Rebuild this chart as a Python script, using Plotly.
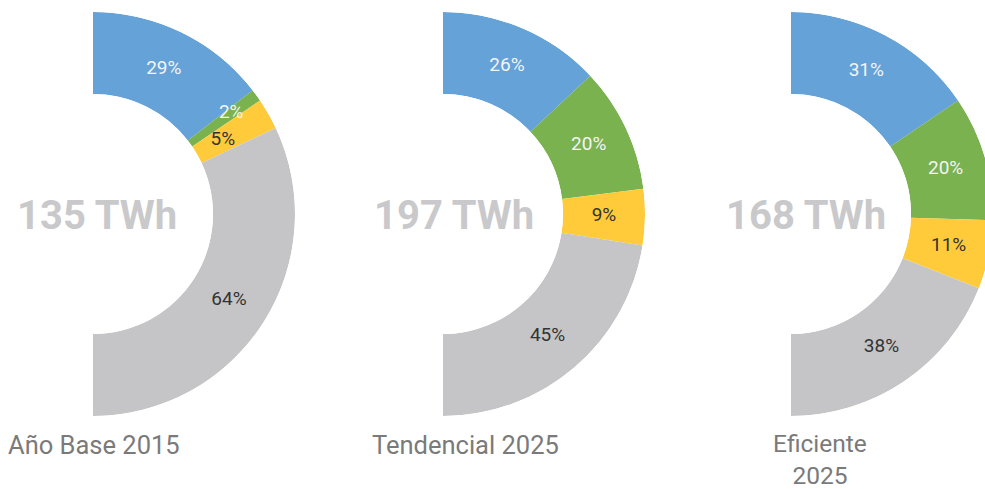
import plotly.graph_objects as go

# ---------------- data ----------------
segments = ["Segmento 1", "Segmento 2", "Segmento 3", "Segmento 4"]
scenarios = ["Año Base 2015", "Tendencial 2025", "Eficiente<br>2025"]
totals = ["135 TWh", "197 TWh", "168 TWh"]
shares_base_2015 = [29, 2, 5, 64]
shares_tendencial_2025 = [26, 20, 9, 45]
shares_eficiente_2025 = [31, 20, 11, 38]

# ---------------- style ----------------
colors = ["#64A2D8", "#79B24F", "#FFCB3B", "#C5C5C7"]
label_colors = ["#F4F4F4", "#F4F4F4", "#333333", "#333333"]
label_r = [[0.5, 0.62, 0.36, 0.5], [0.5] * 4, [0.5] * 4]

W, H = 1000, 489
centers_x = [93, 443, 791]
center_y = 214
R = 202
hole = 120 / 202

fig = go.Figure()
all_shares = [shares_base_2015, shares_tendencial_2025, shares_eficiente_2025]

for i, shares in enumerate(all_shares):
    pname = "polar" if i == 0 else f"polar{i+1}"
    sub = "polar" if i == 0 else f"polar{i+1}"
    total = sum(shares)
    widths = [v / total * 180 for v in shares]
    mids = []
    acc = 0
    for w in widths:
        mids.append(acc + w / 2)
        acc += w
    fig.add_trace(go.Barpolar(
        r=[1] * len(shares), theta=mids, width=widths,
        marker=dict(color=colors, line=dict(width=0)),
        text=[f"{s}: {v}%" for s, v in zip(segments, shares)], hoverinfo="text",
        subplot=sub, showlegend=False))
    fig.add_trace(go.Scatterpolar(
        r=label_r[i], theta=mids, mode="text",
        text=[f"{v}%" for v in shares],
        textfont=dict(family="Roboto", size=19, color=label_colors),
        subplot=sub, showlegend=False, hoverinfo="skip"))
    cx = centers_x[i]
    fig.layout[pname] = dict(
        domain=dict(x=[cx / W, (cx + R) / W],
                    y=[(H - (center_y + R)) / H, (H - (center_y - R)) / H]),
        sector=[-90, 90], hole=hole, bgcolor="rgba(0,0,0,0)",
        angularaxis=dict(visible=False, rotation=90, direction="clockwise"),
        radialaxis=dict(visible=False, range=[0, 1]))

# total labels
total_x = [97, 454, 806]
for i, t in enumerate(totals):
    fig.add_annotation(x=total_x[i] / W, y=(H - 215) / H, xref="paper", yref="paper",
                       text=f"<b>{t}</b>", showarrow=False,
                       font=dict(family="Roboto", size=40, color="#C9C9CB"),
                       xanchor="center", yanchor="middle")

# scenario labels
fig.add_annotation(x=6 / W, y=(H - 445) / H, xref="paper", yref="paper",
                   text=scenarios[0], showarrow=False, xanchor="left", yanchor="middle",
                   font=dict(family="Roboto", size=25.5, color="#7A7A7A"))
fig.add_annotation(x=370 / W, y=(H - 445) / H, xref="paper", yref="paper",
                   text=scenarios[1], showarrow=False, xanchor="left", yanchor="middle",
                   font=dict(family="Roboto", size=25.5, color="#7A7A7A"))
fig.add_annotation(x=820 / W, y=(H - 459) / H, xref="paper", yref="paper",
                   text=scenarios[2], showarrow=False, xanchor="center", yanchor="middle",
                   align="center",
                   font=dict(family="Roboto", size=24.5, color="#7A7A7A"))

fig.update_layout(width=W, height=H, margin=dict(l=0, r=0, t=0, b=0),
                  paper_bgcolor="white", plot_bgcolor="white")

fig.write_html("out.html", config={"displayModeBar": False},
               post_script="document.body.style.margin='0';document.body.style.overflow='hidden';")
